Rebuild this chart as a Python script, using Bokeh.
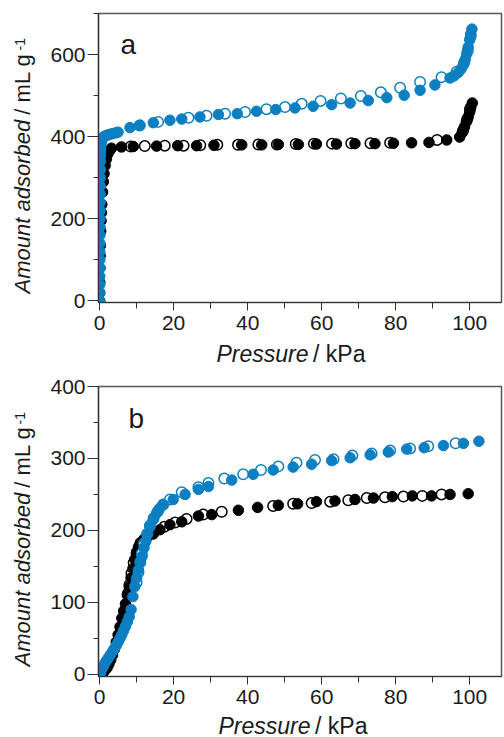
from bokeh.plotting import figure
from bokeh.models import Range1d, FixedTicker, Label
from bokeh.layouts import column, row
from bokeh.embed import file_html
from bokeh.resources import INLINE
import math

# ---------------- data: panel a ----------------
a_black_ads_x = [0.0, 0.02, 0.05, 0.1, 0.15, 0.2, 0.3, 0.4, 0.5, 0.6, 0.8, 1.0, 1.2, 1.5, 1.8, 2.2, 2.7, 3.2,
                 5.9, 9.1, 15.4, 21.1, 26.2, 30.9, 38.4, 43.8, 48.3, 53.7, 58.6, 64.0, 69.0, 74.4, 79.4, 84.3,
                 89.0, 93.8, 97.3, 98.0, 98.6, 99.1, 99.6, 100.0, 100.3, 100.7]
a_black_ads_y = [0, 20, 45, 80, 110, 135, 170, 195, 215, 235, 265, 290, 310, 330, 345, 358, 366, 372,
                 375, 376, 377, 378, 378, 379, 380, 380, 381, 381, 382, 382, 383, 383, 384, 385,
                 386, 392, 399, 410, 424, 436, 448, 460, 472, 482]
a_black_des_x = [8.4, 12.2, 17.6, 22.7, 27.2, 31.8, 37.4, 42.9, 47.9, 53.0, 57.9, 62.8, 68.0, 73.2, 78.5, 91.2,
                 98.2, 99.3, 100.1]
a_black_des_y = [376, 377, 378, 378, 379, 380, 380, 381, 381, 382, 383, 383, 384, 384, 385, 392,
                 415, 442, 468]
a_blue_ads_x = [0.0, 0.02, 0.03, 0.04, 0.05, 0.06, 0.07, 0.08, 0.09, 0.1, 0.11, 0.12, 0.13, 0.14, 0.15, 0.17,
                0.19, 0.21, 0.24, 0.28, 0.33, 0.4, 0.5, 0.65, 0.8, 1.0, 1.4, 1.9, 2.5, 3.3, 4.2, 5.0, 8.2, 10.9,
                14.5, 19.0, 22.2, 27.1, 32.1, 37.2, 42.4, 47.6, 52.8, 57.7, 62.7, 67.7, 72.6, 77.6, 82.3, 86.6,
                90.6, 94.7, 95.8, 96.9, 97.7, 98.3, 98.8, 99.2, 99.6, 100.0, 100.3, 100.6]
a_blue_ads_y = [0, 20, 40, 60, 80, 100, 120, 140, 160, 180, 200, 220, 240, 260, 280, 300,
                320, 340, 355, 368, 378, 385, 390, 394, 397, 399, 401, 403, 405, 407, 409, 411, 422, 428,
                434, 440, 443, 448, 454, 456, 462, 466, 470, 474, 478, 482, 488, 495, 501, 513,
                526, 543, 548, 556, 565, 575, 588, 602, 618, 636, 650, 662]
a_blue_des_x = [10.8, 15.8, 24.0, 28.9, 33.9, 39.3, 45.1, 50.1, 54.6, 59.7, 65.2, 70.6, 76.0, 81.2, 86.6, 92.4,
                96.5, 98.5, 99.5, 100.3]
a_blue_des_y = [427, 436, 446, 451, 456, 460, 467, 472, 480, 487, 493, 499, 508, 519, 533, 545,
                558, 580, 610, 645]

# ---------------- data: panel b ----------------
b_black_ads_x = [0.5, 1.0, 1.5, 2.0, 2.5, 3.0, 3.5, 4.0, 4.5, 5.0, 5.5, 6.0, 6.5, 7.0, 7.5, 8.0, 8.5, 9.0, 9.5,
                 10.0, 10.5, 11.0, 12.0, 13.0, 14.5, 16.3, 19.0, 22.2, 26.7, 30.3, 37.5, 42.7, 48.3, 53.5,
                 58.6, 63.6, 69.0, 74.0, 79.1, 84.5, 89.7, 94.7, 99.6]
b_black_ads_y = [1, 3, 6, 9, 14, 20, 27, 35, 45, 55, 66, 78, 88, 98, 110, 122, 134, 147, 160,
                 170, 177, 183, 188, 192, 195, 201, 208, 212, 220, 222, 228, 232, 235, 237,
                 240, 241, 243, 245, 247, 248, 248, 250, 251]
b_black_des_x = [7.6, 8.1, 8.6, 9.2, 10.0, 11.0, 12.5, 14.0, 17.5, 20.4, 23.5, 28.0, 33.0, 46.9, 52.3, 57.3,
                 62.3, 67.2, 72.2, 77.1, 82.1, 87.2, 92.4]
b_black_des_y = [112, 125, 140, 155, 168, 180, 189, 196, 205, 211, 216, 222, 226, 234, 237, 238,
                 240, 242, 245, 246, 247, 248, 250]
b_blue_ads_x = [0.0, 0.2, 0.6, 1.0, 1.5, 2.0, 2.5, 3.0, 3.5, 4.0, 4.5, 5.0, 5.5, 6.0, 6.5, 7.0, 7.5, 8.0, 8.5,
                9.0, 9.5, 10.0, 10.5, 11.0, 11.5, 12.0, 12.5, 13.0, 13.6, 14.5, 15.4, 16.3, 17.2, 19.9, 23.1,
                26.7, 29.4, 35.7, 41.5, 46.9, 52.3, 57.3, 62.7, 67.7, 73.1, 78.0, 83.0, 87.7, 92.9, 98.3, 102.5]
b_blue_ads_y = [0, 2, 7, 11, 16, 20, 24, 28, 32, 36, 40, 45, 50, 55, 61, 67, 73, 80, 90,
                108, 122, 134, 145, 155, 164, 176, 185, 195, 205, 215, 224, 231, 236, 243, 250,
                257, 261, 270, 278, 284, 288, 292, 297, 301, 305, 309, 313, 315, 318, 321, 324]
b_blue_des_x = [10.0, 10.5, 11.0, 11.4, 12.0, 12.8, 13.6, 14.6, 15.8, 17.2, 19.0, 22.2, 26.7, 29.4, 33.7, 38.8,
                43.6, 48.3, 53.2, 58.2, 63.2, 68.3, 73.5, 78.5, 83.9, 88.8, 96.2]
b_blue_des_y = [128, 142, 156, 168, 182, 195, 207, 217, 227, 236, 243, 253, 260, 266, 272, 278,
                284, 289, 294, 298, 299, 304, 307, 311, 314, 317, 321]

x_major = [0, 20, 40, 60, 80, 100]
x_minor = [10, 30, 50, 70, 90, 110]
a_y_major = [0, 200, 400, 600]
a_y_minor = [100, 300, 500, 700]
b_y_major = [0, 100, 200, 300, 400]
b_y_minor = [50, 150, 250, 350]

y_label_main = "Amount adsorbed"
y_label_unit = "/ mL g"
y_label_sup = "-1"
x_label_main = "Pressure"
x_label_unit = "/ kPa"

BLUE = "#0b7fc1"
BLACK = "#000000"
FONT = "Liberation Sans"
TXT = "#1a1a1a"
LABW = 36
W = 504


def blank(width, height):
    f = figure(width=width, height=height, output_backend="svg", toolbar_location=None,
               x_axis_type=None, y_axis_type=None, min_border=0,
               x_range=Range1d(0, 1), y_range=Range1d(0, 1))
    f.grid.visible = False
    f.outline_line_color = None
    f.background_fill_color = "white"
    f.border_fill_color = "white"
    return f


def lbl(x, y, text, size="23px", style="normal", align="left", angle=0.0):
    return Label(x=x, y=y, x_units="screen", y_units="screen", text=text, angle=angle,
                 text_font=FONT, text_font_size=size, text_font_style=style, text_color=TXT,
                 text_baseline="alphabetic", text_align=align)


def ylabel_fig(height, y0, y1, ysup):
    f = blank(LABW, height)
    f.add_layout(lbl(22, y0, y_label_main, size="22px", style="italic", angle=math.pi / 2))
    f.add_layout(lbl(22, y1, y_label_unit, size="22px", align="right", angle=math.pi / 2))
    f.add_layout(lbl(19, ysup, y_label_sup, size="14px", angle=math.pi / 2))
    return f


def xlabel_fig(height, ybase, xl, xr):
    f = blank(W, height)
    f.add_layout(lbl(xl, ybase, x_label_main, style="italic"))
    f.add_layout(lbl(xr, ybase, x_label_unit, align="right"))
    return f


def make_panel(height, btop, bbot, yrange, ymaj, ymin, letter, letter_x, series):
    p = figure(width=W - LABW, height=height, output_backend="svg", toolbar_location=None,
               x_range=Range1d(-0.3, 108.6), y_range=Range1d(*yrange),
               min_border_left=98 - LABW, min_border_right=3, min_border_top=btop, min_border_bottom=bbot)
    p.grid.visible = False
    p.background_fill_color = "white"
    p.border_fill_color = "white"
    p.outline_line_color = "#555555"
    p.outline_line_width = 1.5

    for ax, maj, mnr in ((p.xaxis[0], x_major, x_minor), (p.yaxis[0], ymaj, ymin)):
        ax.ticker = FixedTicker(ticks=maj, minor_ticks=mnr)
        ax.axis_line_color = "#333333"
        ax.axis_line_width = 1.2
        ax.major_tick_line_color = "#333333"
        ax.minor_tick_line_color = "#333333"
        ax.major_tick_in = 0
        ax.minor_tick_in = 0
        ax.major_label_text_font = FONT
        ax.major_label_text_font_size = "21px"
        ax.major_label_text_color = TXT
    p.xaxis.major_tick_out = 8
    p.xaxis.minor_tick_out = 6
    p.xaxis.major_label_standoff = 5
    p.yaxis.major_tick_out = 11
    p.yaxis.minor_tick_out = 5
    p.yaxis.major_label_standoff = 2

    for xs, ys, color, filled in series:
        if filled:
            p.scatter(xs, ys, marker="circle", size=10.5, fill_color=color, line_color=color, line_width=1)
        else:
            p.scatter(xs, ys, marker="circle", size=10.5, fill_color="white", line_color=color, line_width=1.5)

    p.add_layout(Label(x=letter_x, y=258, x_units="screen", y_units="screen", text=letter,
                       text_font=FONT, text_font_size="28px", text_color=TXT,
                       text_baseline="alphabetic", text_align="left"))
    return p


# panel a: frame 13..302 (page px)
HA = 336
pa = make_panel(HA, 13, HA - 13 - 289, (-4, 700), a_y_major, a_y_minor, "a", 22,
                [(a_black_des_x, a_black_des_y, BLACK, False),
                 (a_black_ads_x, a_black_ads_y, BLACK, True),
                 (a_blue_des_x, a_blue_des_y, BLUE, False),
                 (a_blue_ads_x, a_blue_ads_y, BLUE, True)])
ya = ylabel_fig(HA, 9, 249, 252)
xa = xlabel_fig(36, 19, 216, 365)

# panel b: frame 386..676
HB = 338
pb = make_panel(HB, 14, HB - 14 - 290, (-3, 400), b_y_major, b_y_minor, "b", 30,
                [(b_black_des_x, b_black_des_y, BLACK, False),
                 (b_black_ads_x, b_black_ads_y, BLACK, True),
                 (b_blue_des_x, b_blue_des_y, BLUE, False),
                 (b_blue_ads_x, b_blue_ads_y, BLUE, True)])
yb = ylabel_fig(HB, 10, 250, 252)
xb = xlabel_fig(27, 12, 218, 367)

layout = column(row(ya, pa, spacing=0), xa, row(yb, pb, spacing=0), xb, spacing=0)
open("out.html", "w").write(file_html(layout, INLINE))
